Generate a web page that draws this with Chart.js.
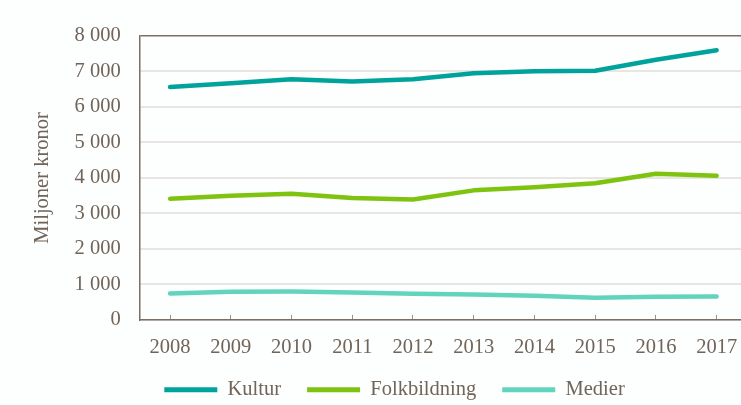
<!DOCTYPE html>
<html>
<head>
<meta charset="utf-8">
<script src="https://cdn.jsdelivr.net/npm/chart.js@4"></script>
<style>
  html, body { margin: 0; padding: 0; background: #fdfefe; overflow: hidden; }
  #wrap { position: relative; width: 760px; height: 405px; }
</style>
</head>
<body>
<div id="wrap"><canvas id="myChart"></canvas></div>
<script>
// data (miljoner kronor)
const years = ['2008','2009','2010','2011','2012','2013','2014','2015','2016','2017']
const kultur = [6560, 6670, 6780, 6720, 6780, 6950, 7010, 7020, 7330, 7600]
const folkbildning = [3415, 3500, 3555, 3435, 3390, 3650, 3735, 3850, 4120, 4065]
const medier = [745, 790, 800, 775, 735, 715, 680, 625, 650, 660]
const yTicks = [0, 1000, 2000, 3000, 4000, 5000, 6000, 7000, 8000]

const txt = '#716459'
const axisCol = '#7b6f64'
const font = { family: 'Liberation Serif', size: 20.5 }

function sep(v){
    return String(v).replace(/\B(?=(\d{3})+(?!\d))/g, ' ')
}

const ctx = document.getElementById('myChart').getContext('2d')
Graph = new Chart(ctx, {
    type: 'line',
    data: {
      labels: years,
      datasets: [
        { label: 'Kultur', data: kultur, borderColor: '#00a39b', backgroundColor: '#00a39b' },
        { label: 'Folkbildning', data: folkbildning, borderColor: '#7ec30f', backgroundColor: '#7ec30f' },
        { label: 'Medier', data: medier, borderColor: '#62d3bd', backgroundColor: '#62d3bd' }
      ]
    },
    options: {
      responsive: true,
      maintainAspectRatio: false,
      animation: false,
      elements: {
        line: { borderWidth: 4.5, tension: 0, borderCapStyle: 'round', borderJoinStyle: 'round' },
        point: { radius: 0 }
      },
      layout: { padding: { left: 42, right: 13, top: 36, bottom: -5 } },
      plugins: {
        tooltip: { enabled: false },
        legend: {
          position: 'bottom',
          labels: {
            color: txt,
            font: font,
            boxWidth: 53,
            boxHeight: 5,
            useBorderRadius: true,
            borderRadius: 2.5,
            padding: 26,
            generateLabels(chart){
              return chart.data.datasets.map((ds, i) => ({
                text: ds.label,
                fillStyle: ds.borderColor,
                strokeStyle: ds.borderColor,
                lineWidth: 0,
                fontColor: txt,
                datasetIndex: i,
                hidden: false
              }))
            }
          }
        }
      },
      scales: {
        x: {
          offset: true,
          afterFit(scale){ scale.height -= 26 },
          grid: { drawOnChartArea: false, offset: false, color: '#9a9088', tickLength: -5, lineWidth: 1 },
          border: { color: axisCol, width: 1.5 },
          ticks: { color: txt, font: font, padding: 20, maxRotation: 0 }
        },
        y: {
          min: 0,
          max: 8000,
          afterBuildTicks(scale){ scale.ticks = yTicks.map(v => ({ value: v })) },
          grid: {
            drawTicks: false,
            color: c => c.tick && c.tick.value === 8000 ? axisCol : '#e9e5e2',
            lineWidth: c => c.tick && c.tick.value === 8000 ? 1.5 : 2
          },
          border: { color: axisCol, width: 1.5 },
          ticks: { color: txt, font: font, padding: 19, callback: v => sep(v) },
          title: {
            display: true,
            text: 'Miljoner kronor',
            color: txt,
            font: font,
            padding: { top: -12, bottom: 1 }
          }
        }
      }
    }
})
</script>
</body>
</html>
